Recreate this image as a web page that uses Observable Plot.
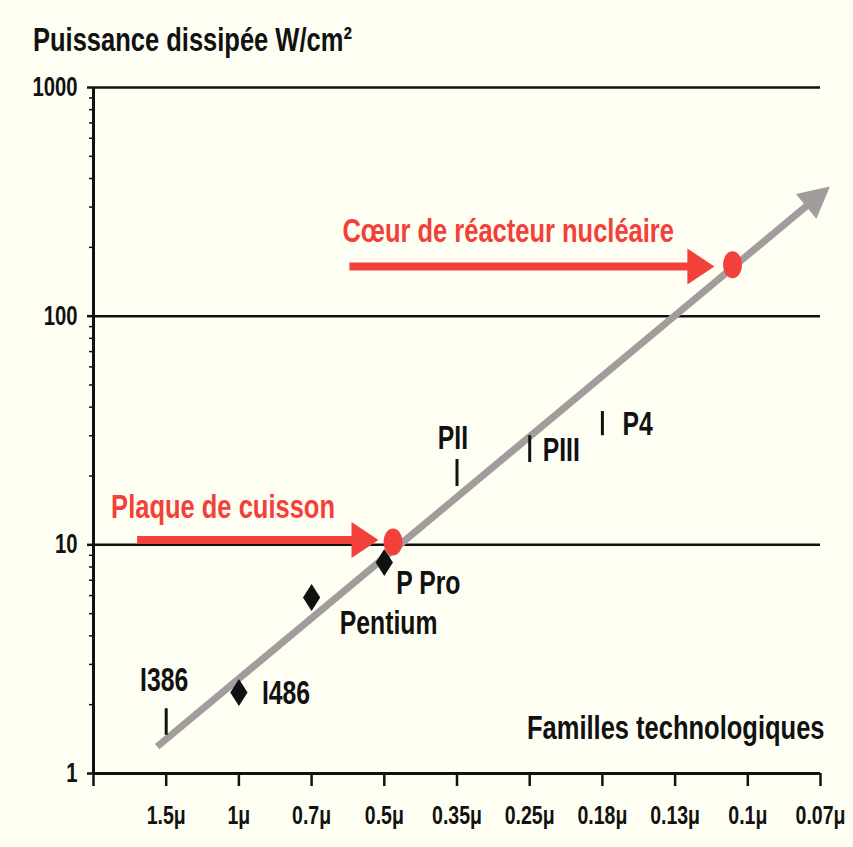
<!DOCTYPE html>
<html>
<head>
<meta charset="utf-8">
<script src="https://cdn.jsdelivr.net/npm/d3@7"></script>
<script src="https://cdn.jsdelivr.net/npm/@observablehq/plot@0.6"></script>
<style>
  html, body { margin: 0; padding: 0; background: #fffef3; }
  #wrap { position: relative; width: 853px; height: 847px; overflow: hidden; }
  #title { position: absolute; left: 33px; top: 22px; font: bold 34px "Liberation Sans", Arial, sans-serif; line-height: 1; color: #111; white-space: nowrap; transform: scaleX(0.75); transform-origin: left top; }
  #wrap svg { position: absolute; left: 0; top: 0; }
</style>
</head>
<body>
<div id="wrap"><div id="title">Puissance dissipée W/cm²</div></div>
<script>
// ---- data ----
const nodes = ["1.5μ", "1μ", "0.7μ", "0.5μ", "0.35μ", "0.25μ", "0.18μ", "0.13μ", "0.1μ", "0.07μ"];
const yTicks = [1, 10, 100, 1000];

const diamondChips = ["I486", "Pentium", "P Pro"];
const diamondNode = ["1μ", "0.7μ", "0.5μ"];
const diamondPower = [2.26, 5.88, 8.37];

const barChips = ["I386", "PII", "PIII", "P4"];
const barNode = ["1.5μ", "0.35μ", "0.25μ", "0.18μ"];
const barLow = [1.47, 18.0, 22.9, 30.0];
const barHigh = [1.92, 23.6, 30.0, 38.3];

const refNames = ["Plaque de cuisson", "Cœur de réacteur nucléaire"];
const refPos = [3.12, 7.79];        // position along the technology axis
const refPower = [10.3, 168];
const refArrowFrom = [-0.40, 2.52];
const refArrowTo = [2.92, 7.54];
const refArrowPower = [10.5, 165];

const trendPos = [-0.124, 9.13];
const trendPower = [1.31, 369];

const xTitle = "Familles technologiques";

// ---- tables ----
const diamonds = diamondChips.map((name, i) => ({name, x: nodes.indexOf(diamondNode[i]), y: diamondPower[i]}));
const bars = barChips.map((name, i) => ({name, x: nodes.indexOf(barNode[i]), y1: barLow[i], y2: barHigh[i], y: Math.sqrt(barLow[i] * barHigh[i])}));
const refs = refNames.map((name, i) => ({name, x: refPos[i], y: refPower[i], x1: refArrowFrom[i], x2: refArrowTo[i], ya: refArrowPower[i]}));
const trend = [{x1: trendPos[0], y1: trendPower[0], x2: trendPos[1], y2: trendPower[1]}];

// ---- styles ----
const FONT = '"Liberation Sans", Arial, sans-serif';
const NARROW = 0.75;
const RED = "#f2403a", GRAY = "#a19d9d", INK = "#111";

const ellipse = {draw(c, size) {
  const ry = Math.sqrt(size / Math.PI), rx = ry * 0.7, k = 0.5523;
  c.moveTo(rx, 0);
  c.bezierCurveTo(rx, k * ry, k * rx, ry, 0, ry);
  c.bezierCurveTo(-k * rx, ry, -rx, k * ry, -rx, 0);
  c.bezierCurveTo(-rx, -k * ry, -k * rx, -ry, 0, -ry);
  c.bezierCurveTo(k * rx, -ry, rx, -k * ry, rx, 0);
  c.closePath();
}};
const diamond = {draw(c, size) {
  const ry = Math.sqrt(size / Math.PI), rx = ry * 0.64;
  c.moveTo(0, -ry); c.lineTo(rx, 0); c.lineTo(0, ry); c.lineTo(-rx, 0); c.closePath();
}};
const head = (len, half) => ({draw(c) {
  c.moveTo(0, 0); c.lineTo(-len, -half); c.lineTo(-len, half); c.closePath();
}});

const labelStyle = {
  "I386": {dx: -2, dy: -42, textAnchor: "middle"},
  "I486": {dx: 23, dy: 1, textAnchor: "start"},
  "Pentium": {dx: 77, dy: 26, textAnchor: "middle"},
  "P Pro": {dx: 12, dy: 21, textAnchor: "start"},
  "PII": {dx: -4, dy: -35, textAnchor: "middle"},
  "PIII": {dx: 13, dy: 1, textAnchor: "start"},
  "P4": {dx: 20, dy: 1, textAnchor: "start"}
};
const refLabelStyle = {
  "Plaque de cuisson": {dx: -26, dy: -33},
  "Cœur de réacteur nucléaire": {dx: -7, dy: -35}
};

const minor = [1, 10, 100].flatMap(d => d3.range(2, 10).map(k => d * k));

const chipLabels = [...diamonds, ...bars].map(d =>
  Plot.text([d], {x: "x", y: "y", text: "name", fontSize: 33, fill: INK, ...labelStyle[d.name]}));
const refLabels = refs.map(d =>
  Plot.text([d], {x: "x1", y: "ya", text: "name", fontSize: 34, fill: RED, textAnchor: "start", ...refLabelStyle[d.name]}));

const chart = Plot.plot({
  width: 853, height: 847,
  marginTop: 87, marginBottom: 74, marginLeft: 93, marginRight: 33,
  x: {type: "linear", domain: [-1, 9], label: null},
  y: {type: "log", domain: [1, 1000], label: null},
  style: {background: "transparent", fontFamily: FONT, fontWeight: "bold", color: INK, overflow: "visible"},
  marks: [
    Plot.ruleY(yTicks.slice(1), {stroke: INK, strokeWidth: 2.5}),
    Plot.axisY({ticks: minor, tickSize: 4, tickFormat: () => "", strokeWidth: 1.5, stroke: INK}),
    Plot.axisY({ticks: yTicks, tickSize: 6, tickPadding: 10, tickFormat: d3.format("d"), fontSize: 27, strokeWidth: 2.5, stroke: INK, fill: INK}),
    Plot.axisX({ticks: d3.range(-1, 10), tickSize: 13, tickPadding: 19, tickFormat: i => i >= 0 ? nodes[i] : "", fontSize: 26, strokeWidth: 2.5, stroke: INK, fill: INK}),
    Plot.ruleY([1], {stroke: INK, strokeWidth: 3}),
    Plot.ruleX([-1], {stroke: INK, strokeWidth: 3}),
    // trend arrow
    Plot.arrow(trend, {x1: "x1", y1: "y1", x2: "x2", y2: "y2", stroke: GRAY, strokeWidth: 7, headLength: 0, insetEnd: 20, strokeLinecap: "butt"}),
    Plot.dot(trend, {x: "x2", y: "y2", symbol: head(31, 16), fill: GRAY, stroke: "none", rotate: -39.8, r: 10}),
    // reference arrows
    Plot.arrow(refs, {x1: "x1", y1: "ya", x2: "x2", y2: "ya", stroke: RED, strokeWidth: 8, headLength: 0, insetEnd: 20, strokeLinecap: "butt"}),
    Plot.dot(refs, {x: "x2", y: "ya", symbol: head(27, 18), fill: RED, stroke: "none", r: 10}),
    Plot.dot(refs, {x: "x", y: "y", symbol: ellipse, r: 13.5, fill: RED, stroke: "none"}),
    // chips
    Plot.dot(diamonds, {x: "x", y: "y", symbol: diamond, r: 13.5, fill: INK, stroke: "none"}),
    Plot.ruleX(bars, {x: "x", y1: "y1", y2: "y2", stroke: INK, strokeWidth: 3}),
    ...chipLabels,
    ...refLabels,
    Plot.text([xTitle], {frameAnchor: "bottom-right", dx: 4, dy: -35, textAnchor: "end", fontSize: 34, fill: INK})
  ]
});

// narrow the lettering horizontally, like the condensed face of the original
chart.querySelectorAll("text").forEach(el => {
  let t = el.getAttribute("transform") || "";
  const x = el.getAttribute("x");
  if (x != null && isFinite(+x)) {
    t += ` translate(${+x},0)`;
    el.removeAttribute("x");
  }
  el.setAttribute("transform", `${t} scale(${NARROW},1)`);
});
document.getElementById("wrap").appendChild(chart);
</script>
</body>
</html>
